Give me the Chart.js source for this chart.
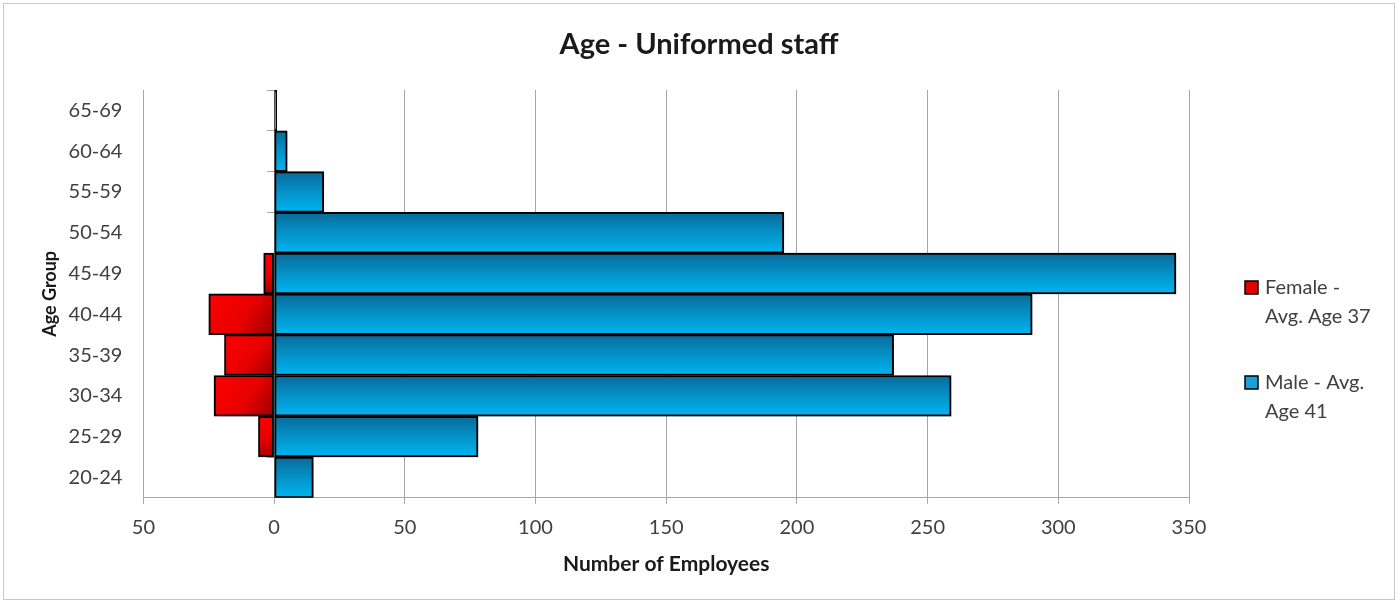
<!DOCTYPE html>
<html>
<head>
<meta charset="utf-8">
<script src="https://cdn.jsdelivr.net/npm/chart.js@4/dist/chart.umd.min.js"></script>
<style>
  html, body { margin: 0; padding: 0; background: #fff; }
  #wrap { position: absolute; left: 3px; top: 3px; width: 1392px; height: 597px; border: 1px solid #c8c8c8; box-sizing: border-box; }
  #chart { position: absolute; left: -4px; top: -4px; }
</style>
</head>
<body>
<div id="wrap"><canvas id="chart" width="1400" height="603"></canvas></div>
<script>
// age groups, bottom to top
var ageGroups = ['20-24', '25-29', '30-34', '35-39', '40-44', '45-49', '50-54', '55-59', '60-64', '65-69'];
// female counts drawn to the left of zero
var femaleCounts = [0, -6, -23, -19, -25, -4, 0, 0, 0, 0];
var maleCounts = [15, 78, 259, 237, 290, 345, 195, 19, 5, 1];
var seriesNames = [['Female -', 'Avg. Age 37'], ['Male - Avg.', 'Age 41']];
var chartTitle = 'Age - Uniformed staff';
var xMin = -50, xMax = 350, xStep = 50;

document.addEventListener('DOMContentLoaded', function(){
  var FONT = 'Lato, "Open Sans", sans-serif';

  function barBox(c){
    var chart = c.chart, ys = chart.scales.y, xs = chart.scales.x;
    if (!ys || !xs || c.raw === undefined) return null;
    var half = (ys.bottom - ys.top) / ageGroups.length / 2;
    var yc = ys.getPixelForValue(c.dataIndex);
    var x0 = xs.getPixelForValue(0), x1 = xs.getPixelForValue(c.raw);
    var b = { l: Math.min(x0, x1), r: Math.max(x0, x1), t: yc - half, b: yc + half };
    if (![b.l, b.r, b.t, b.b].every(isFinite) || half <= 0) return null;
    return b;
  }

  function maleFill(c){
    var b = barBox(c);
    if (!b) return '#0098d0';
    var g = c.chart.ctx.createLinearGradient(0, b.t, 0, b.b);
    g.addColorStop(0, '#096a98');
    g.addColorStop(0.5, '#0392c8');
    g.addColorStop(1, '#00b5f1');
    return g;
  }

  function femaleFill(c){
    var b = barBox(c);
    if (!b || b.r - b.l < 0.5) return '#e00000';
    var g = c.chart.ctx.createLinearGradient(b.l, b.t, b.r, b.b);
    g.addColorStop(0, '#ff0000');
    g.addColorStop(0.55, '#e80000');
    g.addColorStop(1, '#990000');
    return g;
  }

  // soft drop shadow under bars
  var shadowPlugin = {
    id: 'shadow',
    beforeDatasetsDraw: function(chart){
      var ctx = chart.ctx;
      ctx.save();
      ctx.shadowColor = 'rgba(0,0,0,0.3)';
      ctx.shadowBlur = 6;
      ctx.shadowOffsetX = 3;
      ctx.shadowOffsetY = 3;
    },
    afterDatasetsDraw: function(chart){ chart.ctx.restore(); }
  };

  // title across the whole canvas + legend on the right with wrapped labels
  var decor = {
    id: 'decor',
    afterDraw: function(chart){
      var ctx = chart.ctx;
      ctx.save();
      ctx.font = 'bold 29px ' + FONT;
      ctx.fillStyle = '#1a1a1a';
      ctx.textAlign = 'center';
      ctx.textBaseline = 'middle';
      ctx.fillText(chartTitle, 699, 45);

      var items = [
        { fill: '#e00000', top: 281 },
        { fill: '#1a9fd8', top: 376 }
      ];
      ctx.font = '20px ' + FONT;
      ctx.textAlign = 'left';
      items.forEach(function(it, i){
        ctx.fillStyle = it.fill;
        ctx.fillRect(1245, it.top, 13, 13);
        ctx.lineWidth = 1.5;
        ctx.strokeStyle = '#000';
        ctx.strokeRect(1245, it.top, 13, 13);
        ctx.fillStyle = '#404040';
        seriesNames[i].forEach(function(line, j){
          ctx.fillText(line, 1265, it.top + 7 + j * 29);
        });
      });
      ctx.restore();
    }
  };

  new Chart(document.getElementById('chart'), {
    type: 'bar',
    data: {
      labels: ageGroups,
      datasets: [
        { label: seriesNames[0].join(' '), data: femaleCounts, backgroundColor: femaleFill, borderColor: '#000', borderWidth: 2, borderSkipped: false },
        { label: seriesNames[1].join(' '), data: maleCounts, backgroundColor: maleFill, borderColor: '#000', borderWidth: 2, borderSkipped: false }
      ]
    },
    plugins: [shadowPlugin, decor],
    options: {
      indexAxis: 'y',
      responsive: false,
      animation: false,
      categoryPercentage: 1,
      barPercentage: 1,
      layout: { padding: { left: 35, right: 211, top: 90, bottom: 22 } },
      plugins: {
        legend: { display: false },
        tooltip: { enabled: false },
        title: { display: false }
      },
      scales: {
        x: {
          stacked: true,
          min: xMin, max: xMax,
          ticks: {
            stepSize: xStep,
            color: '#404040',
            font: { family: FONT, size: 20 },
            padding: 12,
            callback: function(v){ return Math.abs(v); }
          },
          grid: { color: '#a6a6a6', lineWidth: 1, tickLength: 6, drawTicks: true },
          border: { display: true, color: '#a6a6a6' },
          title: {
            display: true,
            text: 'Number of Employees',
            color: '#1a1a1a',
            font: { family: FONT, size: 21, weight: 'bold' },
            padding: { top: 0, bottom: 4 }
          }
        },
        y: {
          stacked: true,
          reverse: true,
          position: 'left',
          ticks: { color: '#404040', font: { family: FONT, size: 20 }, padding: 13 },
          grid: { display: false },
          border: { display: true, color: '#a6a6a6' },
          title: {
            display: true,
            text: 'Age Group',
            color: '#1a1a1a',
            font: { family: FONT, size: 18, weight: 'bold' },
            padding: { top: 4, bottom: -5 }
          }
        },
        y2: {
          type: 'category',
          axis: 'y',
          reverse: true,
          position: { x: 0 },
          ticks: { display: false },
          grid: { drawOnChartArea: false, color: '#a6a6a6', tickLength: 7, offset: true },
          border: { display: true, color: '#a6a6a6' }
        }
      }
    }
  });
});
</script>
</body>
</html>
